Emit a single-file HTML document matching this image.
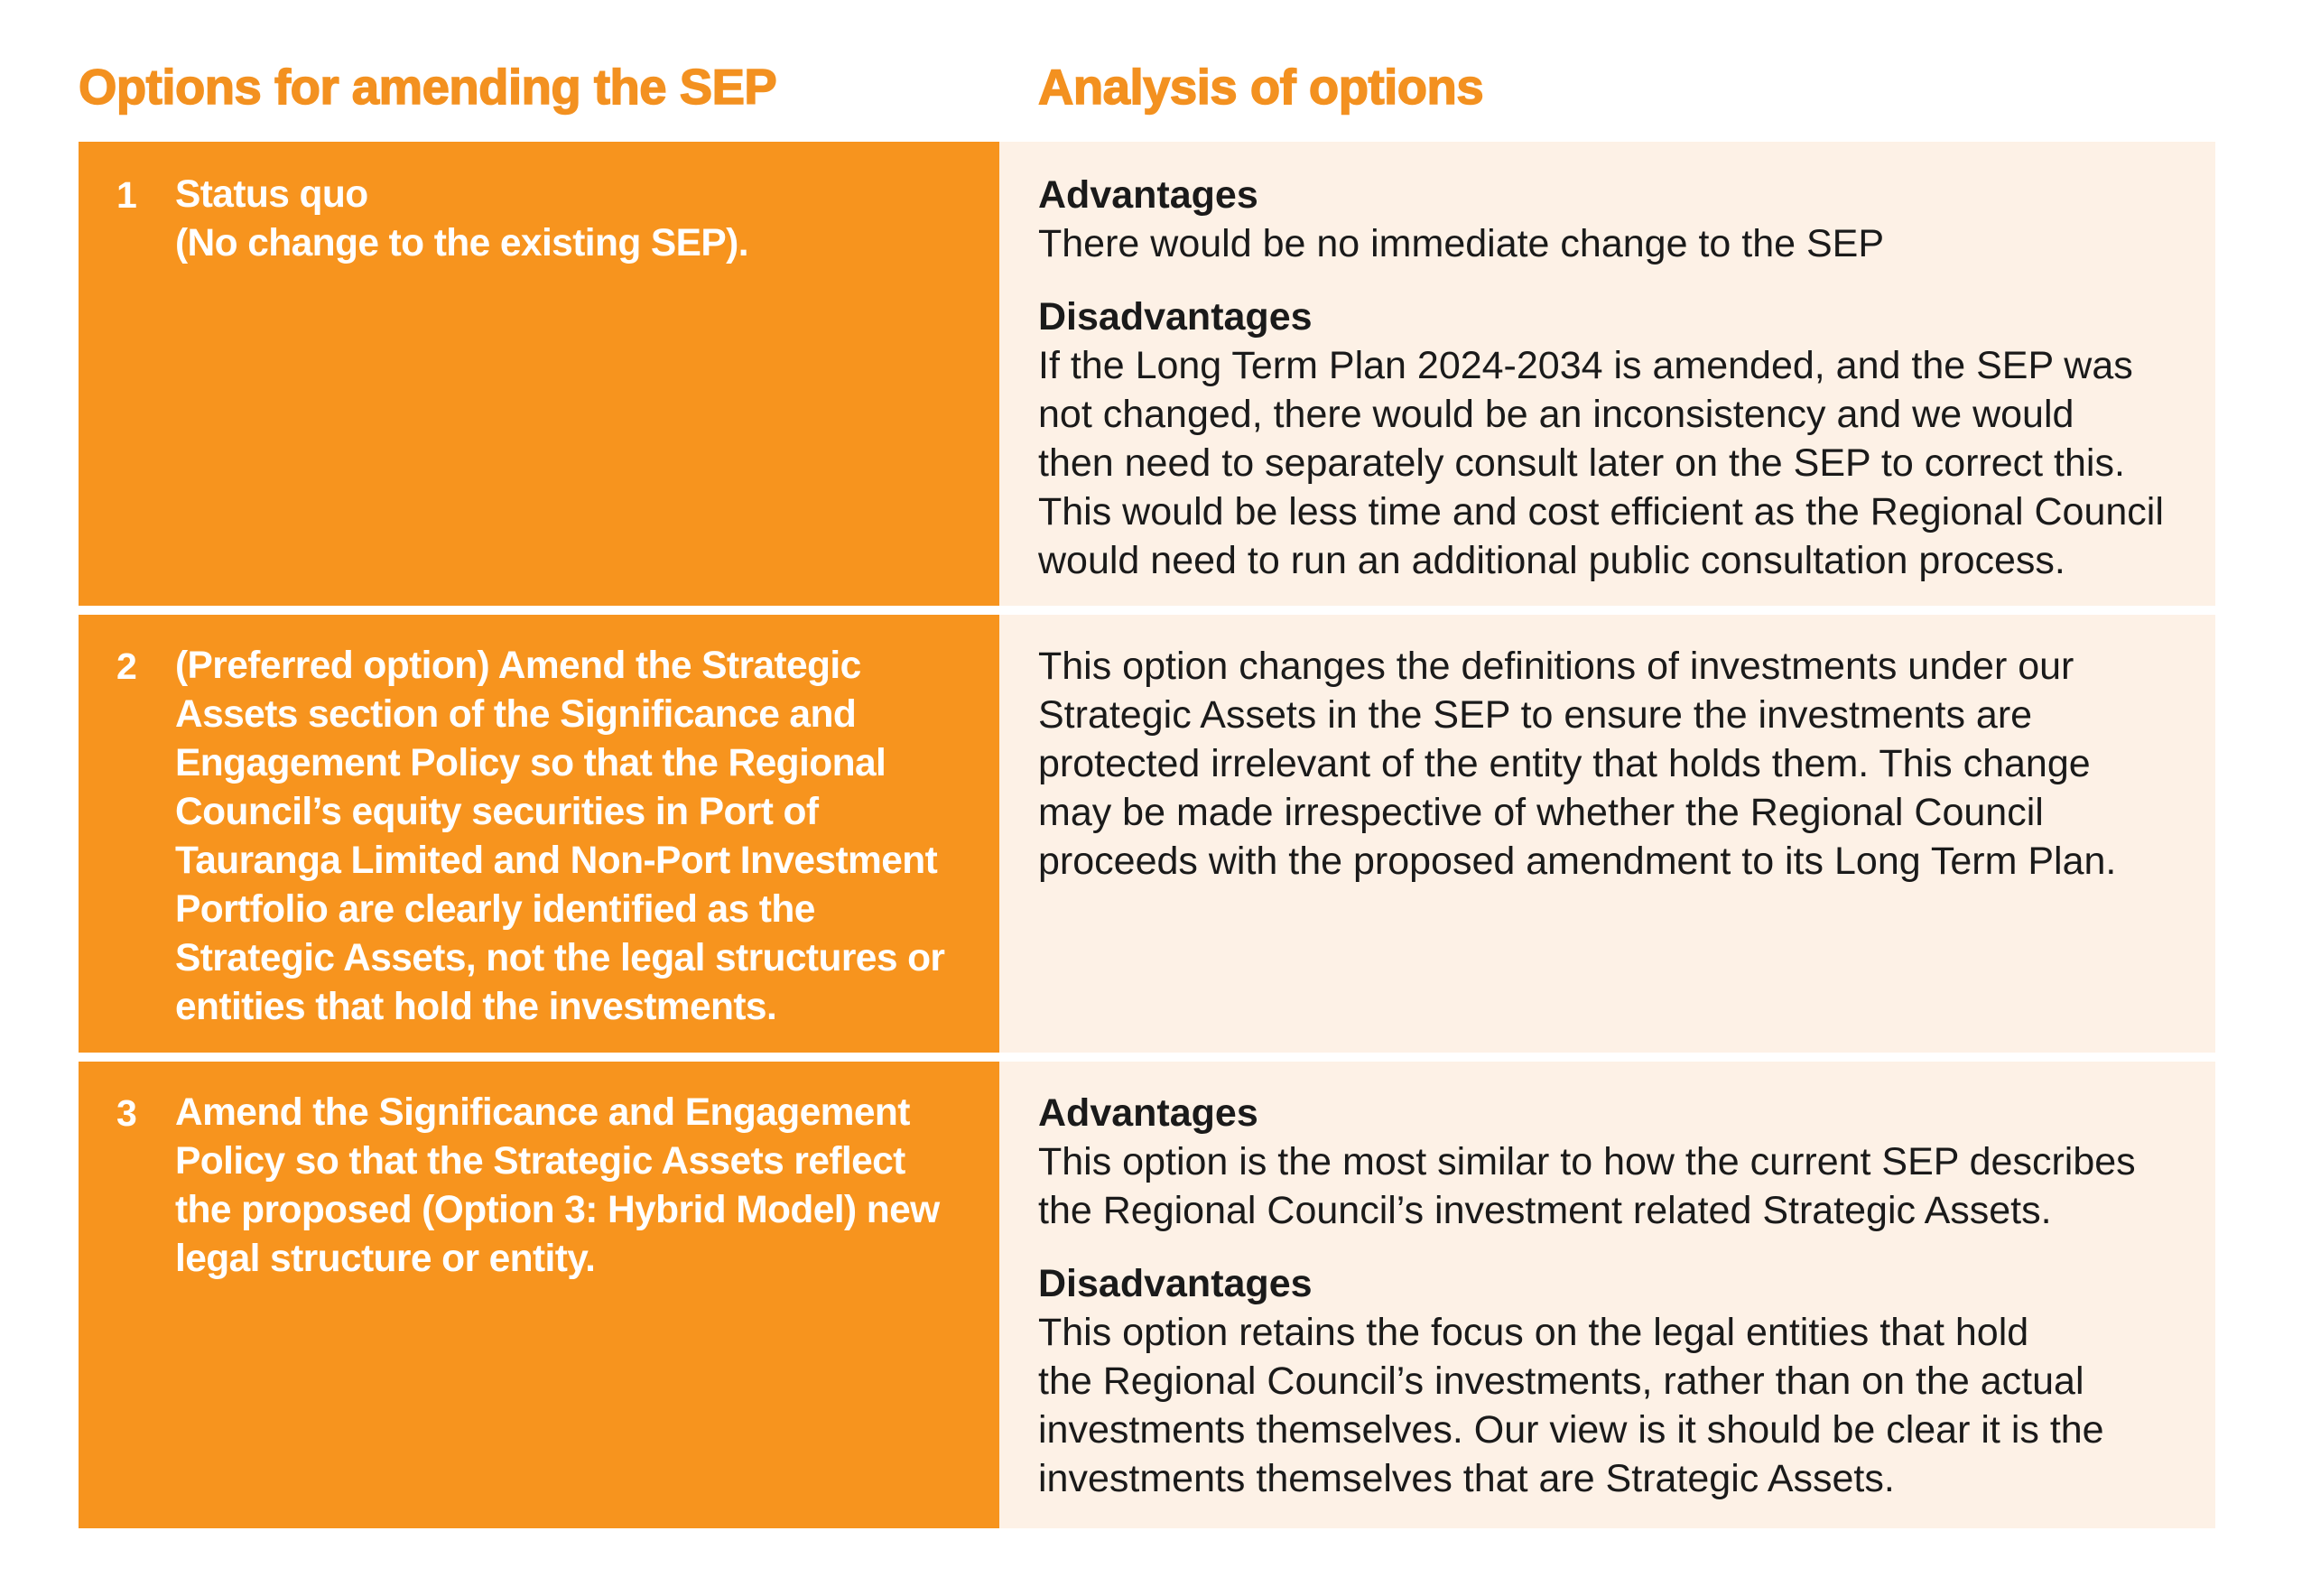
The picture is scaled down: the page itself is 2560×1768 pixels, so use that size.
<!DOCTYPE html>
<html><head><meta charset="utf-8"><style>
html,body{margin:0;padding:0;background:#fff;width:2560px;height:1768px;overflow:hidden}
body{position:relative;font-family:"Liberation Sans",sans-serif}
.h{position:absolute;top:65px;font-weight:900;font-size:54.5px;color:#F39120;letter-spacing:-0.5px;white-space:nowrap;-webkit-text-stroke:1.5px #F39120}
.l{position:absolute;left:87px;width:1020px;background:#F7941E}
.r{position:absolute;left:1107px;width:1347px;background:#FDF1E6}
.num{position:absolute;left:42px;color:#fff;font-weight:bold;font-size:41px;line-height:54px}
.lt{position:absolute;left:107px;color:#fff;font-weight:bold;font-size:42.5px;line-height:54px;letter-spacing:-0.6px;white-space:nowrap}
.rt{position:absolute;left:43px;color:#1a1a1a;font-size:43px;line-height:54px;white-space:nowrap}
.rt b{font-weight:bold}
.gap{height:27px}
</style></head><body>
<div class="h" style="left:87px">Options for amending the SEP</div>
<div class="h" style="left:1150px">Analysis of options</div>

<div class="l" style="top:157px;height:514px">
<div class="num" style="top:32px">1</div>
<div class="lt" style="top:32px">Status quo<br>(No change to the existing SEP).</div>
</div>
<div class="r" style="top:157px;height:514px">
<div class="rt" style="top:32px"><b>Advantages</b><br>There would be no immediate change to the SEP<div class="gap"></div><b>Disadvantages</b><br>If the Long Term Plan 2024-2034 is amended, and the SEP was<br>not changed, there would be an inconsistency and we would<br>then need to separately consult later on the SEP to correct this.<br>This would be less time and cost efficient as the Regional Council<br>would need to run an additional public consultation process.</div>
</div>

<div class="l" style="top:681px;height:485px">
<div class="num" style="top:30px">2</div>
<div class="lt" style="top:30px">(Preferred option) Amend the Strategic<br>Assets section of the Significance and<br>Engagement Policy so that the Regional<br>Council’s equity securities in Port of<br>Tauranga Limited and Non-Port Investment<br>Portfolio are clearly identified as the<br>Strategic Assets, not the legal structures or<br>entities that hold the investments.</div>
</div>
<div class="r" style="top:681px;height:485px">
<div class="rt" style="top:30px">This option changes the definitions of investments under our<br>Strategic Assets in the SEP to ensure the investments are<br>protected irrelevant of the entity that holds them. This change<br>may be made irrespective of whether the Regional Council<br>proceeds with the proposed amendment to its Long Term Plan.</div>
</div>

<div class="l" style="top:1176px;height:517px">
<div class="num" style="top:30px">3</div>
<div class="lt" style="top:30px">Amend the Significance and Engagement<br>Policy so that the Strategic Assets reflect<br>the proposed (Option 3: Hybrid Model) new<br>legal structure or entity.</div>
</div>
<div class="r" style="top:1176px;height:517px">
<div class="rt" style="top:30px"><b>Advantages</b><br>This option is the most similar to how the current SEP describes<br>the Regional Council’s investment related Strategic Assets.<div class="gap"></div><b>Disadvantages</b><br>This option retains the focus on the legal entities that hold<br>the Regional Council’s investments, rather than on the actual<br>investments themselves. Our view is it should be clear it is the<br>investments themselves that are Strategic Assets.</div>
</div>
</body></html>
